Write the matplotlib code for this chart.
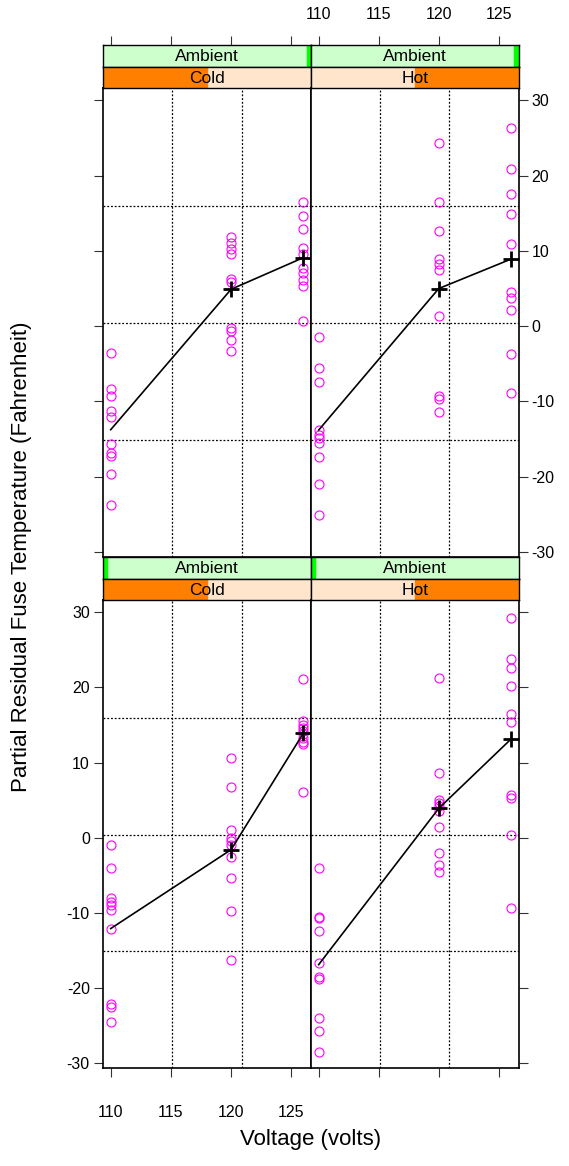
import numpy as np
import matplotlib.pyplot as plt
from matplotlib.patches import Rectangle

plt.rcParams['font.family'] = ['Liberation Sans', 'DejaVu Sans']
plt.rcParams['axes.unicode_minus'] = False

# voltage levels and partial residuals
voltage = [110, 120, 126]

top_cold_110 = [-3.5, -8.3, -9.3, -11.2, -12.0, -15.6, -16.9, -17.2, -19.7, -23.8]
top_cold_120 = [11.9, 11.0, 10.3, 9.6, 6.3, 5.9, -0.3, -0.6, -1.9, -3.3]
top_cold_126 = [16.5, 14.7, 12.9, 10.4, 9.6, 7.7, 7.1, 6.1, 5.3, 0.7]
top_cold_fit = [-13.75, 4.9, 9.1]

top_hot_110 = [-1.5, -5.6, -7.4, -13.8, -14.5, -14.9, -15.5, -17.4, -21.0, -25.1]
top_hot_120 = [24.4, 16.5, 12.6, 8.9, 8.2, 7.4, 1.4, -9.3, -9.7, -11.4]
top_hot_126 = [26.3, 20.9, 17.6, 14.9, 10.9, 4.6, 3.7, 2.1, -3.7, -8.9]
top_hot_fit = [-13.8, 5.0, 8.9]

bot_cold_110 = [-1.0, -4.0, -8.0, -8.5, -8.9, -9.6, -12.2, -22.2, -22.5, -24.5]
bot_cold_120 = [10.6, 6.8, 1.0, 0.0, -0.5, -1.0, -2.6, -5.4, -9.7, -16.3]
bot_cold_126 = [21.1, 15.5, 15.0, 14.6, 14.2, 13.8, 13.3, 12.8, 12.5, 6.1]
bot_cold_fit = [-12.1, -1.6, 13.9]

bot_hot_110 = [-4.0, -10.5, -10.7, -12.4, -16.7, -18.5, -18.8, -24.0, -25.7, -28.5]
bot_hot_120 = [21.2, 8.6, 5.0, 4.6, 4.2, 3.6, 1.4, -2.0, -3.6, -4.6]
bot_hot_126 = [29.2, 23.8, 22.6, 20.2, 16.4, 15.4, 5.7, 5.3, 0.4, -9.3]
bot_hot_fit = [-16.9, 3.9, 13.1]

# reference lines
ref_x = [115.12, 120.88]
ref_y = [15.9, 0.4, -15.15]

x_ticks = [110, 115, 120, 125]
y_ticks = [-30, -20, -10, 0, 10, 20, 30]

W, H = 569, 1166
XLIM = (109.36, 126.64)
YLIM = (-30.7, 31.6)


def rect(x0, y0, x1, y1):
    return [x0 / W, 1 - y1 / H, (x1 - x0) / W, (y1 - y0) / H]


fig = plt.figure(figsize=(W / 100, H / 100), dpi=100)

cols = [(103, 311), (311, 518.5)]
rows = [(45, 66.7, 88.3, 557.3), (557.3, 578.8, 600.3, 1068.3)]

panels = [
    (0, 0, 'Cold', [top_cold_110, top_cold_120, top_cold_126], top_cold_fit),
    (0, 1, 'Hot', [top_hot_110, top_hot_120, top_hot_126], top_hot_fit),
    (1, 0, 'Cold', [bot_cold_110, bot_cold_120, bot_cold_126], bot_cold_fit),
    (1, 1, 'Hot', [bot_hot_110, bot_hot_120, bot_hot_126], bot_hot_fit),
]

tick_kw = dict(length=6.5, width=0.8, color='#333333', labelsize=11.5)
dots = (0, (1.5, 1.5))

for r, c, temp, groups, fit in panels:
    x0, x1 = cols[c]
    s0, s1, p0, p1 = rows[r]

    ax = fig.add_axes(rect(x0, p0, x1, p1))
    ax.set_xlim(XLIM)
    ax.set_ylim(YLIM)
    for v in ref_x:
        ax.axvline(v, color='black', lw=0.9, ls=dots, zorder=1)
    for v in ref_y:
        ax.axhline(v, color='black', lw=0.9, ls=dots, zorder=1)
    for xv, ys in zip(voltage, groups):
        ax.plot([xv] * len(ys), ys, 'o', ms=6.5, mfc='none', mec='#FF00FF',
                mew=0.8, zorder=3, clip_on=False)
    ax.plot(voltage, fit, color='black', lw=1.2, zorder=4)
    ax.plot(voltage[1:], fit[1:], '+', color='black', ms=12, mew=2.0, zorder=5)
    for sp in ax.spines.values():
        sp.set_linewidth(1.2)

    ax.set_xticks(x_ticks)
    ax.set_yticks(y_ticks)
    ax.tick_params(axis='both', **tick_kw)
    # outer axes only, lattice style alternating labels
    ax.tick_params(axis='x', top=False, labeltop=False,
                   bottom=(r == 1), labelbottom=(r == 1 and c == 0), pad=20)
    if c == 0:
        ax.tick_params(axis='y', left=True, right=False,
                       labelleft=(r == 1), labelright=False, pad=3)
    else:
        ax.tick_params(axis='y', left=False, right=True,
                       labelleft=False, labelright=(r == 0), pad=3)

    # strips
    sa = fig.add_axes(rect(x0, s0, x1, s1))
    sa.set_xlim(XLIM)
    sa.set_ylim(0, 1)
    sa.set_yticks([])
    span = XLIM[1] - XLIM[0]
    sa.add_patch(Rectangle((XLIM[0], 0), span, 1, color='#CCFFCC', zorder=0))
    bar_w = span * 0.02
    bar_x = XLIM[1] - bar_w if r == 0 else XLIM[0]
    sa.add_patch(Rectangle((bar_x, 0), bar_w, 1, color='#00FF00', zorder=1))
    sa.text(0.5, 0.47, 'Ambient', transform=sa.transAxes, ha='center',
            va='center', fontsize=12.5)
    for sp in sa.spines.values():
        sp.set_linewidth(1.0)
    sa.set_xticks(x_ticks)
    if r == 0:
        sa.tick_params(axis='x', **tick_kw)
        sa.tick_params(axis='x', bottom=False, labelbottom=False, top=True,
                       labeltop=(c == 1), pad=10)
    else:
        sa.tick_params(axis='x', bottom=False, labelbottom=False)

    sb = fig.add_axes(rect(x0, s1, x1, p0))
    sb.set_xlim(0, 1)
    sb.set_ylim(0, 1)
    sb.set_xticks([])
    sb.set_yticks([])
    sb.add_patch(Rectangle((0, 0), 1, 1, color='#FFE5CC', zorder=0))
    ox = 0 if temp == 'Cold' else 0.5
    sb.add_patch(Rectangle((ox, 0), 0.5, 1, color='#FF7F00', zorder=1))
    sb.text(0.5, 0.47, temp, ha='center', va='center', fontsize=12.5)
    for sp in sb.spines.values():
        sp.set_linewidth(1.0)

fig.text(22 / W, 1 - 556.5 / H, 'Partial Residual Fuse Temperature (Fahrenheit)',
         rotation=90, ha='center', va='center', fontsize=16)
fig.text(310.75 / W, 1 - 1140 / H, 'Voltage (volts)', ha='center',
         va='center', fontsize=16)

fig.savefig('out.png', dpi=100)
